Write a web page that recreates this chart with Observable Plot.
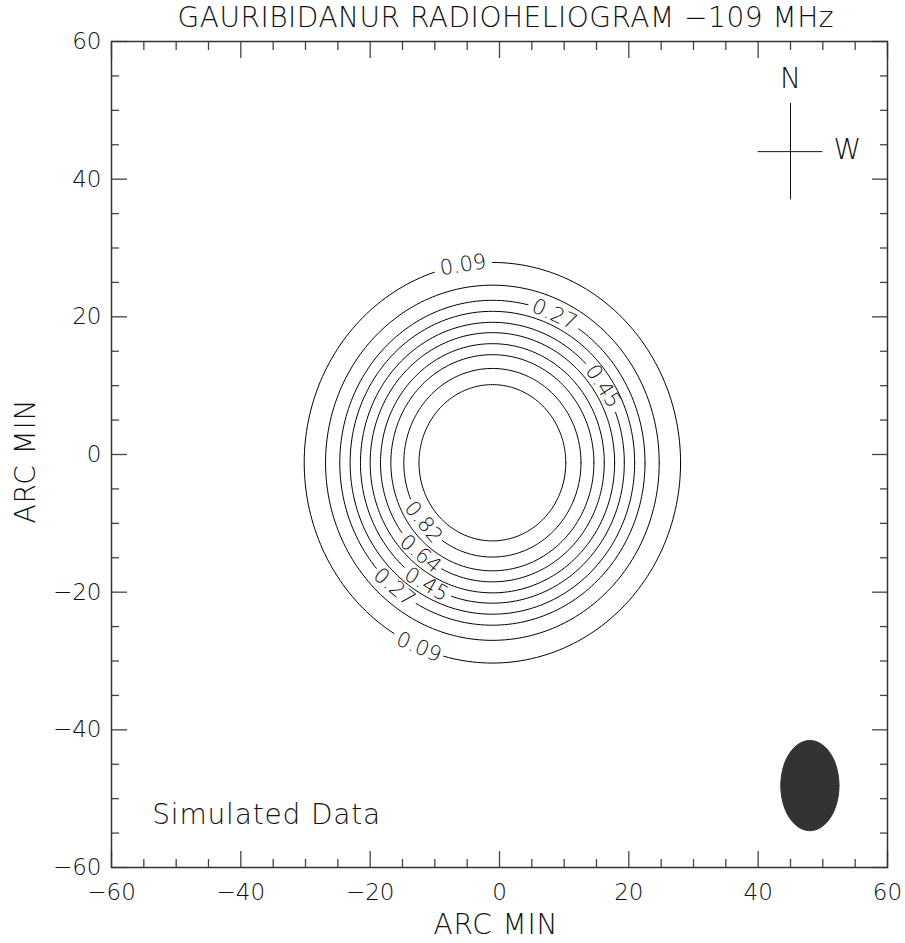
<!DOCTYPE html>
<html><head><meta charset="utf-8">
<script src="https://cdn.jsdelivr.net/npm/d3@7"></script>
<script src="https://cdn.jsdelivr.net/npm/@observablehq/plot@0.6"></script>
<style>body{margin:0;background:#fff;}</style>
</head><body><div id="chart"></div>
<script>
// ---- data ----
const titleText = "GAURIBIDANUR RADIOHELIOGRAM −109 MHz";
const axisLabel = "ARC MIN";
const noteText = "Simulated Data";
const majorTicks = [-60, -40, -20, 0, 20, 40, 60];
const minorTicks = [-55, -50, -45, -35, -30, -25, -15, -10, -5, 5, 10, 15, 25, 30, 35, 45, 50, 55];

// contour levels (outer -> inner) and their radii in arc min, about a common centre
const contourLevels = [0.09, 0.18, 0.27, 0.36, 0.45, 0.55, 0.64, 0.73, 0.82, 0.91];
const contourRadii  = [29.1, 25.8, 23.6, 22.0, 20.4, 18.9, 17.3, 15.7, 13.7, 11.35];
const contourCenter = [-1.1, -1.2];

// contour labels: level and polar angle (deg) where each sits
const labelLevels = [0.09, 0.27, 0.45, 0.82, 0.64, 0.45, 0.27, 0.09];
const labelAngles = [99, 66, 33, 219, 230, 240, 230, 247];

// beam ellipse
const beamCenter = [48.0, -48.1];
const beamRadii = [4.5, 6.55];

// compass
const compassX = 45, compassY = 44;
const compassNS = [37, 51], compassEW = [40, 50];
const compassLetters = ["N", "W"];
const compassLetterX = [45, 53.8];
const compassLetterY = [54.5, 44.3];

// note position
const notePos = [-53.7, -52.4];

// ---- build mark tables ----
const FONT = "'DejaVu Sans', 'Liberation Sans', sans-serif";
const pxPerUnit = 6.67;
const fmt = d3.format(".2f");

const labelTable = labelLevels.map((lv, i) => {
  const r = contourRadii[contourLevels.indexOf(lv)];
  const a = labelAngles[i] * Math.PI / 180;
  let rot = 90 - labelAngles[i];
  while (rot > 90) rot -= 180;
  while (rot <= -90) rot += 180;
  return {x: contourCenter[0] + r * Math.cos(a), y: contourCenter[1] + r * Math.sin(a), text: fmt(lv), rotate: rot};
});

const contourPts = [];
contourLevels.forEach((lv, i) => {
  const r = contourRadii[i];
  const gaps = labelLevels.map((l, j) => l === lv ? labelAngles[j] : null).filter(v => v !== null);
  const half = (26 / (r * pxPerUnit)) * 180 / Math.PI;
  for (let deg = 0; deg <= 360; deg += 1.5) {
    const inGap = gaps.some(g => {
      let d = Math.abs(((deg - g) % 360 + 540) % 360 - 180);
      return d < half;
    });
    const a = deg * Math.PI / 180;
    contourPts.push({
      level: lv,
      x: contourCenter[0] + r * Math.cos(a),
      y: inGap ? NaN : contourCenter[1] + r * Math.sin(a)
    });
  }
});

const beamPts = [];
for (let deg = 0; deg <= 360; deg += 3) {
  const a = deg * Math.PI / 180;
  beamPts.push({x: beamCenter[0] + beamRadii[0] * Math.cos(a), y: beamCenter[1] + beamRadii[1] * Math.sin(a)});
}

const tickStroke = "#444";
const chart = Plot.plot({
  width: 905, height: 943,
  marginLeft: 111, marginRight: 18, marginTop: 41, marginBottom: 76,
  x: {domain: [-60, 60], axis: null},
  y: {domain: [-60, 60], axis: null},
  style: {fontFamily: FONT, background: "white", color: "#111", fontWeight: 200},
  marks: [
    // ticks (inward, all four sides)
    Plot.axisX(majorTicks, {anchor: "bottom", tickSize: 16, dy: -16, fill: "none", label: null, stroke: tickStroke, strokeWidth: 1.3}),
    Plot.axisX(minorTicks, {anchor: "bottom", tickSize: 8, dy: -8, fill: "none", label: null, stroke: tickStroke, strokeWidth: 1.3}),
    Plot.axisX(majorTicks, {anchor: "top", tickSize: 16, dy: 16, fill: "none", label: null, stroke: tickStroke, strokeWidth: 1.3}),
    Plot.axisX(minorTicks, {anchor: "top", tickSize: 8, dy: 8, fill: "none", label: null, stroke: tickStroke, strokeWidth: 1.3}),
    Plot.axisY(majorTicks, {anchor: "left", tickSize: 16, dx: 16, fill: "none", label: null, stroke: tickStroke, strokeWidth: 1.3}),
    Plot.axisY(minorTicks, {anchor: "left", tickSize: 8, dx: 8, fill: "none", label: null, stroke: tickStroke, strokeWidth: 1.3}),
    Plot.axisY(majorTicks, {anchor: "right", tickSize: 16, dx: -16, fill: "none", label: null, stroke: tickStroke, strokeWidth: 1.3}),
    Plot.axisY(minorTicks, {anchor: "right", tickSize: 8, dx: -8, fill: "none", label: null, stroke: tickStroke, strokeWidth: 1.3}),
    // tick labels
    Plot.axisX(majorTicks, {anchor: "bottom", tickSize: 0, tickPadding: 16, fontSize: 23, label: null, fill: "#111"}),
    Plot.axisY(majorTicks, {anchor: "left", tickSize: 0, tickPadding: 10, fontSize: 23, label: null, fill: "#111"}),
    Plot.frame({stroke: "#333", strokeWidth: 1.5}),
    // contours
    Plot.line(contourPts, {x: "x", y: "y", z: "level", stroke: "#000", strokeWidth: 1, curve: "linear"}),
    Plot.text(labelTable, {x: "x", y: "y", text: "text", rotate: "rotate", fontSize: 21, fill: "#111"}),
    // beam
    Plot.line(beamPts, {x: "x", y: "y", fill: "#333", stroke: "#333", strokeWidth: 1}),
    // compass
    Plot.ruleX([compassX], {y1: compassNS[0], y2: compassNS[1], stroke: "#111", strokeWidth: 1}),
    Plot.ruleY([compassY], {x1: compassEW[0], x2: compassEW[1], stroke: "#111", strokeWidth: 1}),
    Plot.text(compassLetters, {x: (d, i) => compassLetterX[i], y: (d, i) => compassLetterY[i], text: d => d, fontSize: 28, fill: "#111"}),
    // note
    Plot.text([noteText], {x: () => notePos[0], y: () => notePos[1], textAnchor: "start", fontSize: 28, fill: "#111"}),
    // title & axis labels
    Plot.text([titleText], {frameAnchor: "top", lineAnchor: "middle", dy: -23.5, dx: 6, fontSize: 28, fill: "#111"}),
    Plot.text([axisLabel], {frameAnchor: "bottom", lineAnchor: "middle", textAnchor: "middle", dy: 58, dx: -4, fontSize: 28, fill: "#111"}),
    Plot.text([axisLabel], {frameAnchor: "left", lineAnchor: "middle", textAnchor: "middle", dx: -85, dy: 7, rotate: -90, fontSize: 28, fill: "#111"})
  ]
});
const stretch = {[titleText]: 656, [noteText]: 228, [axisLabel]: 124};
d3.select(chart).selectAll("text").each(function () {
  const t = this.textContent;
  if (stretch[t]) {
    this.setAttribute("textLength", stretch[t]);
    this.setAttribute("lengthAdjust", "spacing");
  }
});
document.getElementById("chart").appendChild(chart);
</script>
</body></html>
